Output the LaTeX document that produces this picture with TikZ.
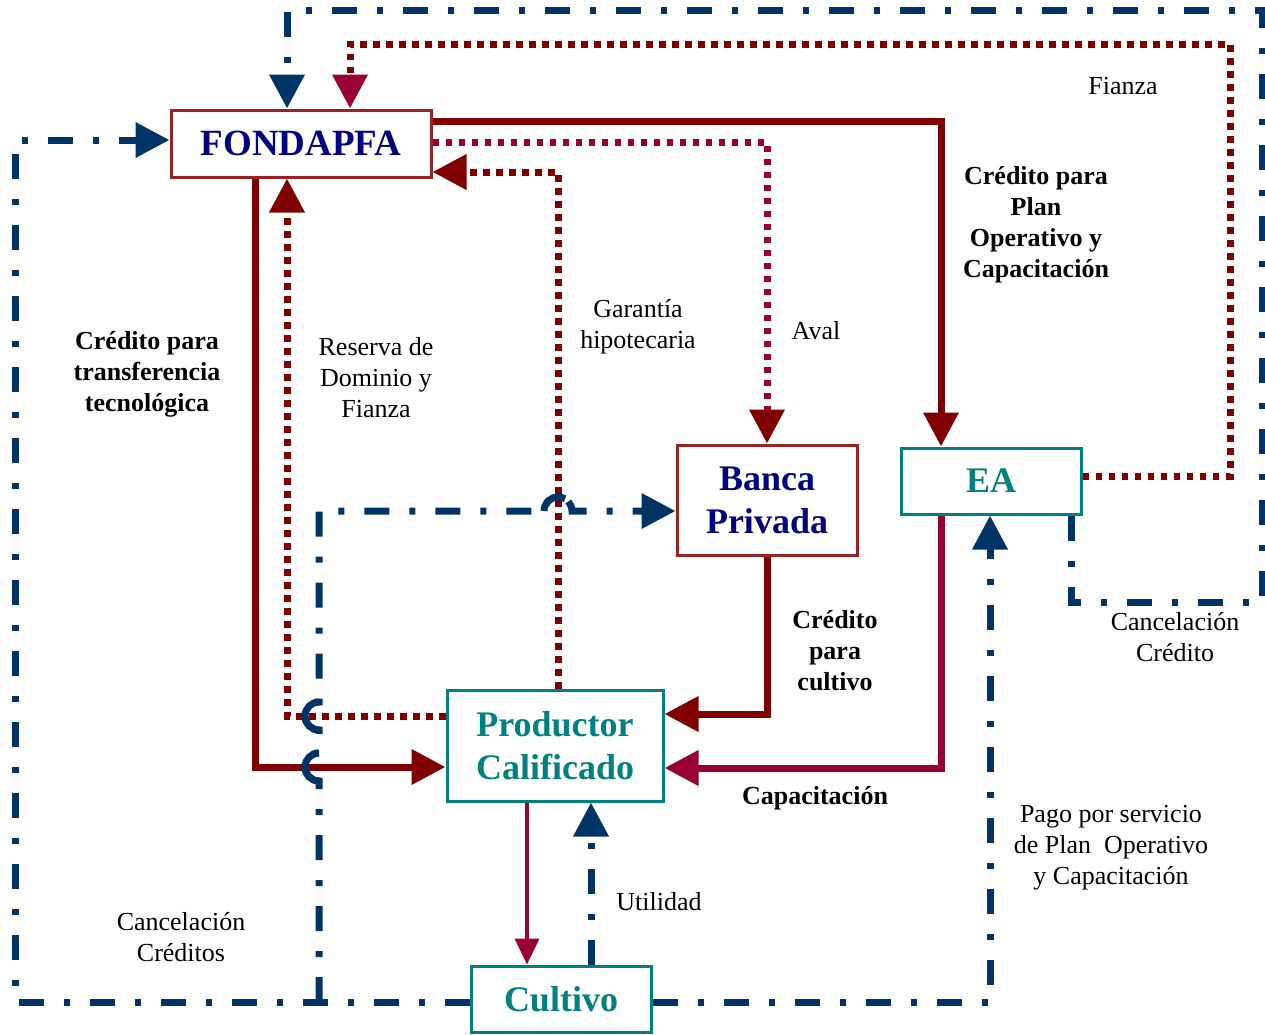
\documentclass[tikz,border=0pt]{standalone}
\usepackage{fontspec}
\setmainfont{Liberation Serif}
\usepackage{tikz}
\usetikzlibrary{arrows.meta}

\definecolor{azul}{RGB}{0,51,102}
\definecolor{granate}{RGB}{128,0,0}
\definecolor{carmin}{RGB}{153,0,51}
\definecolor{marino}{RGB}{0,0,128}
\definecolor{verde}{RGB}{0,128,128}
\definecolor{bordo}{RGB}{153,34,34}

\newcommand{\cajafont}{\fontsize{36}{43}\selectfont\bfseries}
\newcommand{\etqfont}{\fontsize{26}{31}\selectfont}
\newcommand{\etqbfont}{\fontsize{26}{31}\selectfont\bfseries}

\tikzset{
	caja/.style={draw,line width=3pt,inner sep=0pt,align=center,font=\cajafont},
	cajaroja/.style={caja,draw=bordo,text=marino},
	cajaverde/.style={caja,draw=verde,text=verde},
	lleno/.style={line width=7pt},
	punteado/.style={line width=7pt,dash pattern=on 6.5pt off 6.5pt},
	rayapunto/.style={line width=7pt,color=azul,dash pattern=on 25pt off 20pt on 6pt off 20pt},
	punta/.style={-{Triangle[length=34pt,width=34pt]}},
	salto/.style={line width=7pt,color=azul},
	etq/.style={align=center,font=\etqfont},
	etqb/.style={align=center,font=\etqbfont},
}

\begin{document}
\begin{tikzpicture}[x=1pt,y=-1pt]
	
	\useasboundingbox (0,0) rectangle (1265,1034);
	
	\node[cajaroja,minimum width=260pt,minimum height=67pt,font=\fontsize{37}{43}\selectfont\bfseries] (fondapfa) at (301,143.5) {FONDAPFA};
	\node[cajaroja,minimum width=180pt,minimum height=110pt] (banca) at (767,500) {Banca\\Privada};
	\node[cajaverde,minimum width=180pt,minimum height=66pt] (ea) at (991,481) {EA};
	\node[cajaverde,minimum width=216pt,minimum height=111pt] (productor) at (555,745.5) {Productor\\Calificado};
	\node[cajaverde,minimum width=180pt,minimum height=66pt] (cultivo) at (561,999) {Cultivo};
	
	\coordinate (k1) at (941,121);
	\coordinate (k2) at (767,142);
	\coordinate (k3) at (558,172);
	\coordinate (k4) at (287,716);
	\coordinate (k5) at (255,767);
	\coordinate (k6) at (767,714);
	\coordinate (k7) at (941,768);
	\coordinate (k8) at (527,900);
	\coordinate (k9) at (591,900);
	\coordinate (k10) at (990,1002);
	\coordinate (k11) at (15,1002);
	\coordinate (k12) at (15,140);
	\coordinate (k13) at (677,511);
	\coordinate (k14) at (1071,602);
	\coordinate (k15) at (1262,602);
	\coordinate (k16) at (1262,10);
	\coordinate (k17) at (287,10);
	\coordinate (k18) at (1230,476);
	\coordinate (k19) at (1230,44);
	\coordinate (k20) at (350,44);
	\coordinate (rama) at (319,1002);
	
	% flujos de credito
	\draw[lleno,granate,punta] (fondapfa.east |- k1) -- (k1) -- (k1 |- ea.north);
	\draw[lleno,granate,punta] (k5 |- fondapfa.south) -- (k5) -- (productor.west |- k5);
	\draw[lleno,granate,punta] (banca.south) -- (k6) -- (productor.east |- k6);
	\draw[lleno,carmin,punta] (k7 |- ea.south) -- (k7) -- (productor.east |- k7);
	\draw[line width=4pt,carmin,-{Triangle[length=26pt,width=24pt]}] (k8 |- productor.south) -- (k8 |- cultivo.north);
	
	% garantias
	\draw[punteado,carmin,-{Triangle[length=34pt,width=34pt,color=granate]}] (fondapfa.east |- k2) -- (k2) -- (banca.north);
	\draw[punteado,granate,punta] (k3 |- productor.north) -- (k3) -- (fondapfa.east |- k3);
	\draw[punteado,granate,punta] (productor.west |- k4) -- (k4) -- (k4 |- fondapfa.south);
	\draw[punteado,granate,-{Triangle[length=34pt,width=34pt,color=carmin]}] (ea.east |- k18) -- (k18) -- (k19) -- (k20) -- (k20 |- fondapfa.north);
	
	% pagos
	\draw[rayapunto,punta] (k9 |- cultivo.north) -- (k9 |- productor.south);
	\draw[rayapunto,punta] (cultivo.east |- k10) -- (k10) -- (k10 |- ea.south);
	\draw[rayapunto,punta] (cultivo.west |- k11) -- (k11) -- (k12) -- (fondapfa.west |- k12);
	\draw[rayapunto,punta] (k14 |- ea.south) -- (k14) -- (k15) -- (k16) -- (k17) -- (k17 |- fondapfa.north);
	\draw[rayapunto,punta] (rama) -- (319,781) arc[start angle=90,end angle=270,radius=14]
		-- (319,730) arc[start angle=90,end angle=270,radius=14]
		-- (319,511) -- (544,511) arc[start angle=180,end angle=360,radius=14]
		-- (banca.west |- k13);
	
	% saltos en los cruces
	\draw[salto] (319,781) arc[start angle=90,end angle=270,radius=14];
	\draw[salto] (319,730) arc[start angle=90,end angle=270,radius=14];
	\draw[salto] (544,511) arc[start angle=180,end angle=300,radius=14];
	
	\node[etq] (fianza) at (1123,86) {Fianza};
	\node[etqb] (plan) at (1036,225) {Crédito para\\Plan\\Operativo y\\Capacitación};
	\node[etq] (aval) at (816,331) {Aval};
	\node[etq] (garantia) at (638,327) {Garantía\\hipotecaria};
	\node[etq] (reserva) at (376,378) {Reserva de\\Dominio y\\Fianza};
	\node[etqb] (transferencia) at (147,374) {Crédito para\\transferencia\\tecnológica};
	\node[etqb] (paracultivo) at (835,651) {Crédito\\para\\cultivo};
	\node[etqb] (capacitacion) at (815,798) {Capacitación};
	\node[etq] (cancelacion) at (1175,637) {Cancelación\\Crédito};
	\node[etq] (utilidad) at (659,902) {Utilidad};
	\node[etq] (pago) at (1111,848) {Pago por servicio\\de Plan~ Operativo\\y Capacitación};
	\node[etq] (creditos) at (181,937) {Cancelación\\Créditos};
	
\end{tikzpicture}
\end{document}
